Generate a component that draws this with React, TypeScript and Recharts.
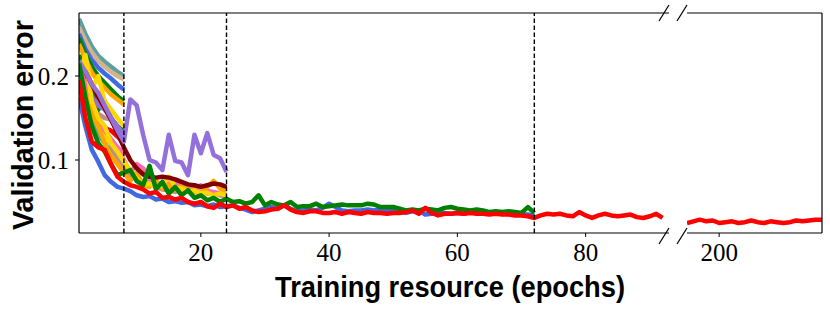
import { Line, LineChart, ReferenceLine, XAxis, YAxis } from "recharts";

// epochs on the left part of the broken axis, and on the right part
const epochsLeft = Array.from({ length: 92 }, (_, i) => i + 1);
const epochsRight = [195, 196, 197, 198, 199, 200, 201, 202, 203, 204, 205, 206, 207, 208, 209, 210, 211, 212, 213, 214, 215, 216];

const xTicksLeft = [20, 40, 60, 80];
const xTicksRight = [200];
const yTicks = [0.1, 0.2];
const rungEpochs = [8, 24, 72];

// first rung only (epochs 1-8)
const tealRung1 = [0.268, 0.25, 0.235, 0.224, 0.217, 0.211, 0.205, 0.2];
const tanRung1 = [0.258, 0.242, 0.228, 0.218, 0.211, 0.205, 0.2, 0.196];
const blueTopRung1 = [0.25, 0.232, 0.219, 0.21, 0.203, 0.197, 0.19, 0.184];
const greenTopRung1 = [0.245, 0.226, 0.211, 0.2, 0.192, 0.184, 0.176, 0.17];
const orangeTopRung1 = [0.238, 0.22, 0.204, 0.194, 0.186, 0.178, 0.172, 0.166];
const orangeRung1 = [0.21, 0.2, 0.185, 0.175, 0.16, 0.15, 0.14, 0.13];
const greenRung1 = [0.225, 0.2, 0.18, 0.16, 0.17, 0.15, 0.14, 0.135];
const purpleRung1 = [0.205, 0.19, 0.175, 0.165, 0.16, 0.15, 0.14, 0.13];
const rosyRung1 = [0.205, 0.185, 0.165, 0.155, 0.15, 0.148, 0.135, 0.125];
const tealLowRung1 = [0.19, 0.17, 0.15, 0.13, 0.12, 0.11, 0.1, 0.095];
const goldRung1 = [0.21, 0.19, 0.17, 0.14, 0.125, 0.12, 0.11, 0.105];
const goldZigRung1 = [0.2, 0.225, 0.185, 0.2, 0.17, 0.16, 0.15, 0.14];
const pinkRung1 = [0.2, 0.18, 0.16, 0.145, 0.13, 0.12, 0.115, 0.108];
const redRung1 = [0.215, 0.2, 0.17, 0.15, 0.138, 0.135, 0.128, 0.12];

// second rung (epochs 1-24)
const rosyRung2 = [0.205, 0.18, 0.16, 0.15, 0.14, 0.12, 0.1, 0.09, 0.082, 0.078, 0.07, 0.075, 0.068, 0.065, 0.064, 0.062, 0.065, 0.07, 0.064, 0.062, 0.06, 0.06, 0.058, 0.056];
const pinkRung2 = [0.21, 0.19, 0.165, 0.15, 0.135, 0.125, 0.115, 0.1, 0.085, 0.095, 0.09, 0.08, 0.074, 0.07, 0.072, 0.075, 0.068, 0.064, 0.066, 0.07, 0.063, 0.062, 0.06, 0.058];
const orangeRung2 = [0.205, 0.18, 0.155, 0.14, 0.12, 0.105, 0.095, 0.085, 0.075, 0.085, 0.07, 0.068, 0.075, 0.066, 0.07, 0.064, 0.068, 0.065, 0.062, 0.06, 0.068, 0.075, 0.066, 0.062];
const goldRung2 = [0.2, 0.22, 0.17, 0.15, 0.14, 0.12, 0.11, 0.098, 0.088, 0.078, 0.07, 0.072, 0.067, 0.07, 0.08, 0.068, 0.066, 0.062, 0.064, 0.06, 0.061, 0.058, 0.06, 0.058];
const maroonRung2 = [0.212, 0.205, 0.19, 0.175, 0.162, 0.148, 0.132, 0.115, 0.1, 0.09, 0.083, 0.08, 0.079, 0.08, 0.079, 0.077, 0.074, 0.071, 0.07, 0.068, 0.07, 0.072, 0.071, 0.068];
const purpleRung2 = [0.218, 0.205, 0.19, 0.18, 0.165, 0.15, 0.135, 0.122, 0.172, 0.165, 0.13, 0.1, 0.097, 0.088, 0.13, 0.099, 0.097, 0.082, 0.13, 0.108, 0.132, 0.106, 0.102, 0.086];

// third rung (epochs 1-72)
const blueRung3 = [
  0.175, 0.14, 0.112, 0.098, 0.082, 0.074, 0.068, 0.066, 0.063, 0.058, 0.056, 0.057, 0.053, 0.054, 0.05, 0.051, 0.049, 0.05, 0.046, 0.047, 0.045, 0.047, 0.044, 0.045,
  0.046, 0.043, 0.041, 0.038, 0.04, 0.042, 0.044, 0.042, 0.046, 0.042, 0.039, 0.04, 0.041, 0.04, 0.043, 0.048, 0.044, 0.04, 0.039, 0.04, 0.04, 0.041, 0.04, 0.041,
  0.04, 0.041, 0.039, 0.037, 0.039, 0.04, 0.035, 0.036, 0.037, 0.037, 0.036, 0.037, 0.036, 0.038, 0.037, 0.037, 0.036, 0.037, 0.036, 0.036, 0.036, 0.035, 0.035, 0.034,
];
const greenRung3 = [
  0.215, 0.175, 0.14, 0.12, 0.11, 0.095, 0.082, 0.085, 0.088, 0.075, 0.07, 0.093, 0.065, 0.074, 0.06, 0.068, 0.058, 0.064, 0.055, 0.058, 0.052, 0.055, 0.05, 0.054,
  0.05, 0.051, 0.048, 0.05, 0.058, 0.046, 0.05, 0.047, 0.046, 0.05, 0.044, 0.045, 0.045, 0.048, 0.044, 0.045, 0.046, 0.047, 0.046, 0.046, 0.046, 0.048, 0.047, 0.044,
  0.044, 0.044, 0.042, 0.04, 0.041, 0.04, 0.042, 0.041, 0.04, 0.043, 0.044, 0.042, 0.041, 0.04, 0.041, 0.04, 0.038, 0.039, 0.038, 0.039, 0.038, 0.037, 0.044, 0.037,
];

// best configuration, trained to the end (epochs 1-92, then 195-216)
const redBest = [
  0.195, 0.15, 0.122, 0.115, 0.112, 0.095, 0.08, 0.074, 0.07, 0.068, 0.065, 0.06, 0.062, 0.055, 0.056, 0.053, 0.055, 0.05, 0.048, 0.05, 0.045, 0.043, 0.048, 0.044,
  0.046, 0.042, 0.044, 0.04, 0.038, 0.039, 0.041, 0.042, 0.046, 0.041, 0.038, 0.037, 0.039, 0.039, 0.037, 0.037, 0.038, 0.036, 0.038, 0.037, 0.036, 0.038, 0.037, 0.037,
  0.036, 0.037, 0.037, 0.038, 0.04, 0.036, 0.043, 0.037, 0.034, 0.036, 0.036, 0.037, 0.036, 0.037, 0.036, 0.036, 0.035, 0.036, 0.035, 0.035, 0.034, 0.034, 0.033, 0.031,
  0.034, 0.036, 0.035, 0.036, 0.034, 0.033, 0.038, 0.034, 0.031, 0.034, 0.036, 0.034, 0.033, 0.034, 0.035, 0.032, 0.031, 0.033, 0.036, 0.031,
];
const redBestTail = [0.025, 0.027, 0.029, 0.027, 0.028, 0.025, 0.026, 0.027, 0.025, 0.026, 0.028, 0.026, 0.025, 0.027, 0.026, 0.025, 0.026, 0.028, 0.027, 0.028, 0.029, 0.029];

const series = [
  { key: "tealRung1", color: "#5F9EA0", values: tealRung1 },
  { key: "tanRung1", color: "#D2B48C", values: tanRung1 },
  { key: "blueTopRung1", color: "#4169E1", values: blueTopRung1 },
  { key: "greenTopRung1", color: "#008000", values: greenTopRung1 },
  { key: "orangeTopRung1", color: "#FFA500", values: orangeTopRung1 },
  { key: "orangeRung1", color: "#FFA500", values: orangeRung1 },
  { key: "tealLowRung1", color: "#5F9EA0", values: tealLowRung1 },
  { key: "rosyRung1", color: "#BC8F8F", values: rosyRung1 },
  { key: "greenRung1", color: "#008000", values: greenRung1 },
  { key: "purpleRung1", color: "#9370DB", values: purpleRung1 },
  { key: "pinkRung1", color: "#FF69B4", values: pinkRung1 },
  { key: "goldRung1", color: "#FFD700", values: goldRung1 },
  { key: "goldZigRung1", color: "#FFD700", values: goldZigRung1 },
  { key: "redRung1", color: "#FF0000", values: redRung1 },
  { key: "rosyRung2", color: "#BC8F8F", values: rosyRung2 },
  { key: "pinkRung2", color: "#FF69B4", values: pinkRung2 },
  { key: "orangeRung2", color: "#FFA500", values: orangeRung2 },
  { key: "goldRung2", color: "#FFD700", values: goldRung2 },
  { key: "maroonRung2", color: "#800000", values: maroonRung2 },
  { key: "purpleRung2", color: "#9370DB", values: purpleRung2 },
  { key: "blueRung3", color: "#4169E1", values: blueRung3 },
  { key: "greenRung3", color: "#008000", values: greenRung3 },
  { key: "redBest", color: "#FF0000", values: redBest },
];

const leftData = epochsLeft.map((epoch, i) => {
  const row: Record<string, number> = { epoch };
  series.forEach((s) => {
    if (i < s.values.length) row[s.key] = s.values[i];
  });
  return row;
});
const rightData = epochsRight.map((epoch, i) => ({ epoch, redBest: redBestTail[i] }));

const Y_DOMAIN: [number, number] = [0.0131, 0.275];
const TICK_FONT = { fontFamily: "'Liberation Serif', serif", fontSize: 25, fill: "#000" };
const SPINE = { stroke: "#000", strokeWidth: 1.2 };
const LABEL_FONT = "'Liberation Sans', Arial, sans-serif";
const LINE_W = 4.5;

export default function App() {
  return (
    <div style={{ position: "absolute", left: 0, top: 0, width: 830, height: 312, background: "#fff" }}>
      <div style={{ position: "absolute", left: 0, top: 0 }}>
        <LineChart width={669} height={312} data={leftData} margin={{ top: 13, right: 0, bottom: 39, left: 0 }}>
          <XAxis
            dataKey="epoch"
            type="number"
            domain={[1, 93]}
            allowDataOverflow
            ticks={xTicksLeft}
            interval={0}
            height={40}
            tickSize={4}
            tickMargin={6}
            tick={TICK_FONT}
            axisLine={SPINE}
            tickLine={{ stroke: "#000", strokeWidth: 1 }}
          />
          <YAxis
            type="number"
            domain={Y_DOMAIN}
            allowDataOverflow
            ticks={yTicks}
            interval={0}
            width={79}
            tickSize={4}
            tickMargin={6}
            tick={TICK_FONT}
            tickFormatter={(v: number) => v.toFixed(1)}
            axisLine={SPINE}
            tickLine={{ stroke: "#000", strokeWidth: 1 }}
          />
          {series.map((s) => (
            <Line
              key={s.key}
              dataKey={s.key}
              type="linear"
              stroke={s.color}
              strokeWidth={LINE_W}
              strokeLinejoin="round"
              dot={false}
              activeDot={false}
              isAnimationActive={false}
            />
          ))}
          {rungEpochs.map((e) => (
            <ReferenceLine key={e} x={e} stroke="#000" strokeWidth={1.4} strokeDasharray="4.5 2.5" />
          ))}
          <ReferenceLine y={Y_DOMAIN[1]} stroke="#000" strokeWidth={1.2} />
        </LineChart>
      </div>
      <div style={{ position: "absolute", left: 687, top: 0 }}>
        <LineChart width={143} height={312} data={rightData} margin={{ top: 13, right: 8, bottom: 39, left: 0 }}>
          <XAxis
            dataKey="epoch"
            type="number"
            domain={[195, 216]}
            allowDataOverflow
            ticks={xTicksRight}
            interval={0}
            height={40}
            tickSize={4}
            tickMargin={6}
            tick={TICK_FONT}
            axisLine={SPINE}
            tickLine={{ stroke: "#000", strokeWidth: 1 }}
          />
          <YAxis hide type="number" domain={Y_DOMAIN} allowDataOverflow />
          <Line
            dataKey="redBest"
            type="linear"
            stroke="#FF0000"
            strokeWidth={LINE_W}
            strokeLinejoin="round"
            dot={false}
            activeDot={false}
            isAnimationActive={false}
          />
          <ReferenceLine y={Y_DOMAIN[1]} stroke="#000" strokeWidth={1.2} />
          <ReferenceLine x={216} stroke="#000" strokeWidth={1.2} />
        </LineChart>
      </div>
      <svg width={830} height={312} style={{ position: "absolute", left: 0, top: 0, pointerEvents: "none" }}>
        <g stroke="#000" strokeWidth={1.2}>
          <line x1={659} y1={21} x2={669} y2={5} />
          <line x1={677} y1={21} x2={687} y2={5} />
          <line x1={659} y1={244} x2={669} y2={228} />
          <line x1={677} y1={244} x2={687} y2={228} />
        </g>
        <text
          x={450}
          y={297}
          textAnchor="middle"
          fontFamily={LABEL_FONT}
          fontWeight="bold"
          fontSize={30}
          textLength={350}
          lengthAdjust="spacingAndGlyphs"
        >
          Training resource (epochs)
        </text>
        <text
          transform="translate(33,125) rotate(-90)"
          textAnchor="middle"
          fontFamily={LABEL_FONT}
          fontWeight="bold"
          fontSize={30}
          textLength={210}
          lengthAdjust="spacingAndGlyphs"
        >
          Validation error
        </text>
      </svg>
    </div>
  );
}
